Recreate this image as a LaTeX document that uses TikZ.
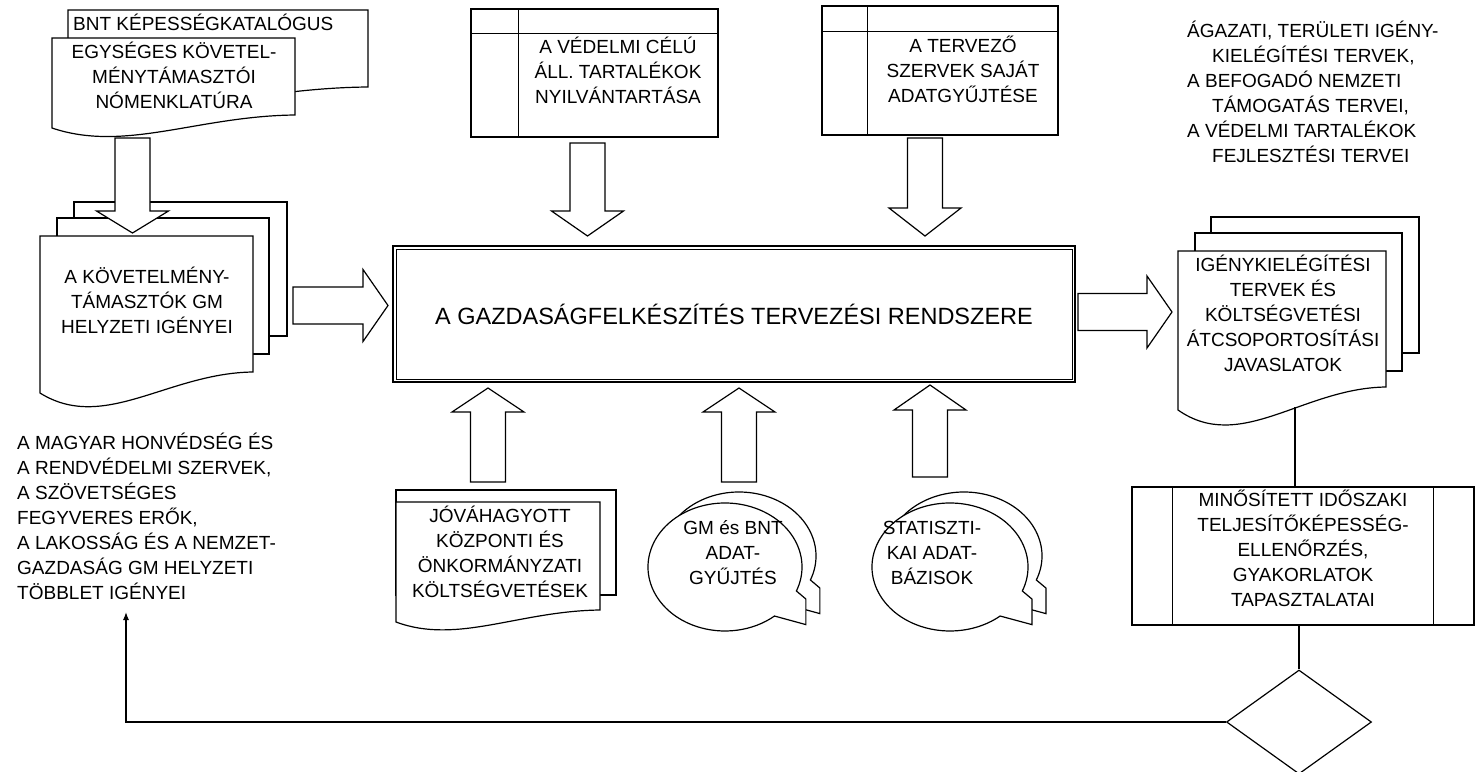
\documentclass[tikz,border=0pt]{standalone}
\usepackage{fontspec}
\setmainfont{Liberation Sans}
\usetikzlibrary{arrows.meta,shapes.geometric,calc}

% document symbol: left, top, right, bottom-right y, bottom-left y
\newcommand\docshape[5]{%
  \path[shapeline] (#1,#2) -- (#3,#2) -- (#3,#4)
    .. controls ({#1+0.6*(#3-#1)},{#4+1}) and ({#1+0.3*(#3-#1)},{#5+1.9*(#5-#4)}) .. (#1,#5) -- cycle;}
% vertical block arrow: centre x, shaft end y, head base y, tip y
\newcommand\vblock[4]{%
  \path[blockarrow] ({#1-17.5},#2) -- ({#1+17.5},#2) -- ({#1+17.5},#3) -- ({#1+36},#3)
    -- (#1,#4) -- ({#1-36},#3) -- ({#1-17.5},#3) -- cycle;}
% horizontal block arrow: centre y, shaft end x, head base x, tip x
\newcommand\hblock[4]{%
  \path[blockarrow] (#2,{#1-18.5}) -- (#3,{#1-18.5}) -- (#3,{#1-36}) -- (#4,#1)
    -- (#3,{#1+36}) -- (#3,{#1+18.5}) -- (#2,{#1+18.5}) -- cycle;}
% oval callout with its wedge at the lower right: cx, cy, rx, ry
\newcommand\bubble[4]{%
  \path[shapeline] ({#1+#3*cos(22)},{#2+#4*sin(22)})
    arc[start angle=22, end angle=-310, x radius=#3, y radius=#4]
    -- ({#1+1.05*#3},{#2+0.9*#4}) -- ({#1+1.05*#3},{#2+0.5*#4}) -- cycle;}

\begin{document}
\begin{tikzpicture}[x=1pt,y=-1pt,
  shapeline/.style={draw=black,line width=1.2pt,fill=white,line join=miter},
  blockarrow/.style={draw=black,line width=1.2pt,fill=white,line join=miter},
  conn/.style={draw=black,line width=1.2pt},
  lbl/.style={inner sep=0pt,align=center,font=\fontsize{19}{25}\selectfont},
  lbll/.style={inner sep=0pt,align=left,font=\fontsize{19}{25}\selectfont},
]
\useasboundingbox[fill=white] (0,0) rectangle (1475,771);

% ---- capability catalogue and nomenclature (top left)
\docshape{68}{10}{368}{87}{100}
\node[lbl,anchor=base west] (bnt) at (73,30) {BNT KÉPESSÉGKATALÓGUS};
\docshape{52}{38}{295}{115}{128}
\node[lbl] (egys) at (174,75.5) {EGYSÉGES KÖVETEL-\\MÉNYTÁMASZTÓI\\NÓMENKLATÚRA};

% ---- requirement owners' demands (multiple documents, left)
\path[shapeline] (74,202) rectangle (287,336);
\path[shapeline] (57,218) rectangle (269,354);
\docshape{40}{236}{253}{372}{393}
\node[lbl] (kovet) at (147,300) {A KÖVETELMÉNY-\\TÁMASZTÓK GM\\HELYZETI IGÉNYEI};
\vblock{132.5}{138}{211}{233}

% ---- stored data (top middle)
\node[shapeline,minimum width=247pt,minimum height=128pt,inner sep=0] (vedelmi) at (594.5,73) {};
\draw[conn] ($(vedelmi.north west)+(0,25)$) -- ($(vedelmi.north east)+(0,25)$);
\draw[conn] ($(vedelmi.north west)+(48,0)$) -- ($(vedelmi.south west)+(48,0)$);
\node[lbl] (vedelmitxt) at (618,70) {A VÉDELMI CÉLÚ\\ÁLL. TARTALÉKOK\\NYILVÁNTARTÁSA};
\vblock{587.5}{143}{211}{236}

\node[shapeline,minimum width=236pt,minimum height=129pt,inner sep=0] (tervezo) at (940,70.5) {};
\draw[conn] ($(tervezo.north west)+(0,26)$) -- ($(tervezo.north east)+(0,26)$);
\draw[conn] ($(tervezo.north west)+(46,0)$) -- ($(tervezo.south west)+(46,0)$);
\node[lbl] (tervezotxt) at (963,69.5) {A TERVEZŐ\\SZERVEK SAJÁT\\ADATGYŰJTÉSE};
\vblock{925}{138}{208}{236}

% ---- plans list (top right)
\node[lbll,anchor=west] (plans) at (1187,91.5) {ÁGAZATI, TERÜLETI IGÉNY-\\
  \hspace*{25pt}KIELÉGÍTÉSI TERVEK,\\
  A BEFOGADÓ NEMZETI\\
  \hspace*{25pt}TÁMOGATÁS TERVEI,\\
  A VÉDELMI TARTALÉKOK\\
  \hspace*{25pt}FEJLESZTÉSI TERVEI};

% ---- central planning system
\node[draw=black,line width=2pt,fill=white,minimum width=682pt,minimum height=136pt,inner sep=0,
  font=\fontsize{23.5}{28}\selectfont] (sys) at (734,314) {A GAZDASÁGFELKÉSZÍTÉS TERVEZÉSI RENDSZERE};
\draw[line width=1pt] ($(sys.north west)+(4,4)$) rectangle ($(sys.south east)+(-4,-4)$);
\hblock{305.5}{293}{363}{388}
\hblock{312}{1078}{1147}{1172}

% ---- inputs below
\path[shapeline] (396,490) rectangle (616,595);
\docshape{396}{502}{600}{610}{622}
\node[lbl] (jovahagy) at (500,552) {JÓVÁHAGYOTT\\KÖZPONTI ÉS\\ÖNKORMÁNYZATI\\KÖLTSÉGVETÉSEK};
\vblock{488}{482}{412}{388}

\bubble{739}{556}{77}{64}
\bubble{725}{567}{77}{64}
\node[lbl] (gm) at (733,553) {GM és BNT\\ADAT-\\GYŰJTÉS};
\vblock{739}{482}{412}{388}

\bubble{964}{556}{78}{64}
\bubble{950}{567}{78}{64}
\node[lbl] (stat) at (932,553) {STATISZTI-\\KAI ADAT-\\BÁZISOK};
\vblock{930}{477}{410}{385}

% ---- outputs (right)
\path[shapeline] (1211,217) rectangle (1419,353);
\path[shapeline] (1195,233) rectangle (1402,371);
\docshape{1178}{251}{1386}{387}{410}
\node[lbl] (igeny) at (1283,313) {IGÉNYKIELÉGÍTÉSI\\TERVEK ÉS\\KÖLTSÉGVETÉSI\\ÁTCSOPORTOSÍTÁSI\\JAVASLATOK};

\node[shapeline,minimum width=342pt,minimum height=138pt,inner sep=0] (proc) at (1303,556) {};
\draw[conn] ($(proc.north west)+(41,0)$) -- ($(proc.south west)+(41,0)$);
\draw[conn] ($(proc.north east)+(-41,0)$) -- ($(proc.south east)+(-41,0)$);
\node[lbl] (proctxt) at (1303,548) {MINŐSÍTETT IDŐSZAKI\\TELJESÍTŐKÉPESSÉG-\\ELLENŐRZÉS,\\GYAKORLATOK\\TAPASZTALATAI};

\node[shapeline,diamond,minimum width=145pt,minimum height=104pt,inner sep=0] (dec) at (1299,722) {};

% ---- feedback demands (left)
\node[lbll,anchor=west] (lefttxt) at (17,516.5) {A MAGYAR HONVÉDSÉG ÉS\\A RENDVÉDELMI SZERVEK,\\A SZÖVETSÉGES\\FEGYVERES ERŐK,\\A LAKOSSÁG ÉS A NEMZET-\\GAZDASÁG GM HELYZETI\\TÖBBLET IGÉNYEI};

% ---- connectors
\coordinate (igenyfoot) at (1295,407);
\coordinate (fbturn) at (126,722);
\coordinate (fbend) at (126,612);
\draw[conn] (igenyfoot) -- (igenyfoot |- proc.north);
\draw[conn] (proc.south -| dec.north) -- (dec.north);
\draw[conn,-{Latex[length=8pt,width=6pt]}] (dec.west) -- (fbturn) -- (fbend);
\end{tikzpicture}
\end{document}
